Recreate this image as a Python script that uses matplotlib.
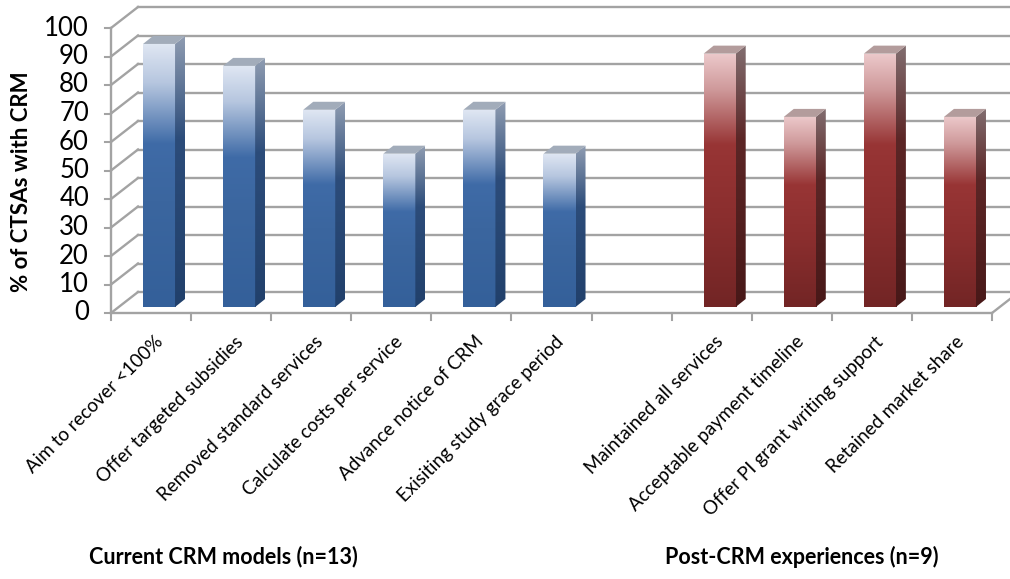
import numpy as np
import matplotlib.pyplot as plt
from matplotlib.colors import LinearSegmentedColormap
from matplotlib.patches import Polygon

plt.rcParams['font.family'] = ['Lato', 'DejaVu Sans']

# data
current_labels = ["Aim to recover <100%", "Offer targeted subsidies",
                  "Removed standard services", "Calculate costs per service",
                  "Advance notice of CRM", "Exisiting study grace period"]
current_values = [92.3, 84.6, 69.2, 53.8, 69.2, 53.8]
post_labels = ["Maintained all services", "Acceptable payment timeline",
               "Offer PI grant writing support", "Retained market share"]
post_values = [88.9, 66.7, 88.9, 66.7]
group_titles = ["Current CRM models (n=13)", "Post-CRM experiences (n=9)"]
y_ticks = list(range(0, 101, 10))

current_pos = np.arange(len(current_labels))
post_pos = np.arange(len(post_labels)) + len(current_labels) + 1
n_slots = len(current_labels) + 1 + len(post_labels)

W, H = 1010, 579
fig = plt.figure(figsize=(W / 100, H / 100), dpi=100)
fig.patch.set_facecolor('white')

# front plane of the 3d box in pixels
x0px, x1px, y0px, y100px = 111, 992, 313, 28
ax = fig.add_axes([x0px / W, 1 - y0px / H, (x1px - x0px) / W, (y0px - y100px) / H])
px_x = n_slots / (x1px - x0px)
px_y = 100 / (y0px - y100px)

wall_dx, wall_dy = 27 * px_x, 21 * px_y      # depth of the box
shift_dx, shift_dy = 8 * px_x, 6 * px_y      # where the bars stand
side_dx, side_dy = 10 * px_x, 8 * px_y       # bar depth
bar_w = 0.4
grid_c = '#a3a3a3'

# back wall + side wall grid
for t in y_ticks:
    ax.plot([-0.5 + wall_dx, n_slots - 0.5 + wall_dx + 1], [t + wall_dy] * 2,
            color=grid_c, lw=1.7, zorder=1, clip_on=False)
    ax.plot([-0.5, -0.5 + wall_dx], [t, t + wall_dy], color=grid_c, lw=1.7,
            zorder=1, clip_on=False)
ax.plot([n_slots - 0.5, n_slots - 0.5 + wall_dx], [0, wall_dy], color=grid_c,
        lw=1.7, zorder=1, clip_on=False)

# front axes
ax.plot([-0.5, -0.5], [0, 100], color=grid_c, lw=1.7, zorder=4, clip_on=False)
ax.plot([-0.5, n_slots - 0.5], [0, 0], color=grid_c, lw=1.7, zorder=4, clip_on=False)
for t in y_ticks:
    ax.plot([-0.5 - 6 * px_x, -0.5], [t, t], color=grid_c, lw=1.5, clip_on=False)
    ax.text(-0.5 - 22 * px_x, t, str(t), ha='right', va='center', fontsize=18.5,
            color='black')
for b in np.arange(n_slots + 1) - 0.5:
    ax.plot([b, b], [0, -7 * px_y], color=grid_c, lw=1.5, clip_on=False)


def grad_img(stops, n=256):
    cmap = LinearSegmentedColormap.from_list('g', stops)
    return cmap(np.linspace(0, 1, n))[:, None, :]


blue = dict(front=[(0, '#e0e7f3'), (0.15, '#b6c6df'), (0.38, '#3f6ba7'),
                   (0.6, '#3b669f'), (1, '#34609a')],
            side=[(0, '#909db2'), (0.38, '#2c4c7a'), (1, '#21406b')],
            top='#a2acba')
red = dict(front=[(0, '#ecc9cb'), (0.14, '#cf9a9b'), (0.36, '#983535'),
                  (0.65, '#8a2e2e'), (1, '#722525')],
           side=[(0, '#826e70'), (0.36, '#5c2626'), (1, '#481818')],
           top='#b39c9c')


def draw_bars(pos, vals, style):
    rects = ax.bar(pos + shift_dx, vals, width=bar_w, bottom=shift_dy,
                   color='none', linewidth=0, zorder=3)
    front = grad_img(style['front'])
    side = grad_img(style['side'])
    for r in rects:
        l, b = r.get_x(), r.get_y()
        rr, t = l + r.get_width(), b + r.get_height()
        im = ax.imshow(front, extent=(l, rr, b, t), aspect='auto', zorder=3)
        im.set_clip_path(r)
        sp = Polygon([(rr, b), (rr, t), (rr + side_dx, t + side_dy),
                      (rr + side_dx, b + side_dy)], closed=True,
                     facecolor='none', edgecolor='none', transform=ax.transData)
        ax.add_patch(sp)
        im2 = ax.imshow(side, extent=(rr, rr + side_dx, b, t + side_dy),
                        aspect='auto', zorder=3)
        im2.set_clip_path(sp)
        ax.add_patch(Polygon([(l, t), (rr, t), (rr + side_dx, t + side_dy),
                              (l + side_dx, t + side_dy)], closed=True,
                             facecolor=style['top'], edgecolor='none', zorder=3))


draw_bars(current_pos, current_values, blue)
draw_bars(post_pos, post_values, red)

ax.set_xlim(-0.5, n_slots - 0.5)
ax.set_ylim(0, 100)
ax.axis('off')

# category labels
for p, lab in zip(list(current_pos) + list(post_pos), current_labels + post_labels):
    ax.text(p + 3 * px_x, -20 * px_y, lab, rotation=45, rotation_mode='anchor',
            ha='right', va='top', fontsize=13.5, clip_on=False)

ax.text(-0.5 - 90 * px_x, 46, '% of CTSAs with CRM', rotation=90, ha='center',
        va='center', fontsize=16, fontweight='bold')

fig.text(223 / W, 1 - 557 / H, group_titles[0], ha='center', va='center',
         fontsize=15.5, fontweight='bold')
fig.text(802 / W, 1 - 557 / H, group_titles[1], ha='center', va='center',
         fontsize=15.5, fontweight='bold')

fig.savefig('out.png', dpi=100)
